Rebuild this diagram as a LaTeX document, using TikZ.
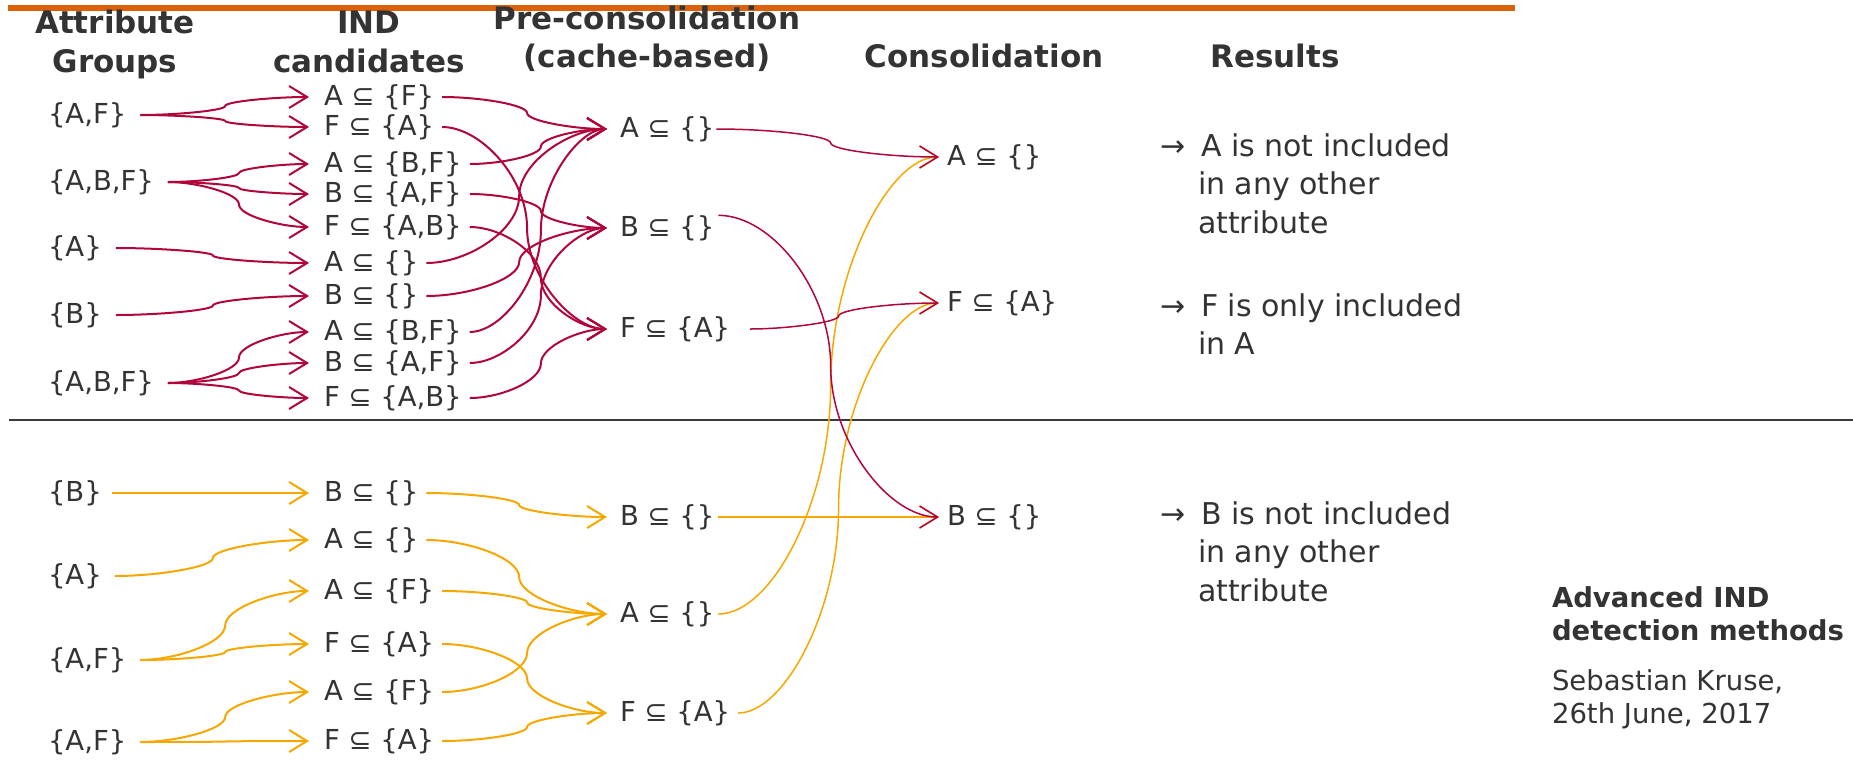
\documentclass[tikz,border=0pt]{standalone}
\usepackage{fontspec}
\setmainfont{DejaVu Sans}
\usetikzlibrary{arrows.meta,calc}
\definecolor{hpired}{HTML}{B1063A}
\definecolor{hpiyellow}{HTML}{F6A800}
\definecolor{hpiorange}{HTML}{DD6108}
\definecolor{txt}{HTML}{333333}
\definecolor{rulegray}{HTML}{3A3A3A}
\newcommand{\lblfont}{\fontsize{27.5}{33}\selectfont}
\newcommand{\resfont}{\fontsize{30}{38.5}\selectfont}
\newcommand{\hdrfont}{\fontsize{31}{39}\selectfont\bfseries}
\newcommand{\ftfont}{\fontsize{27.5}{33}\selectfont}
\begin{document}
\begin{tikzpicture}[x=1pt,y=-1pt,
  lbl/.style={font=\lblfont, text=txt, inner sep=0pt, outer sep=0pt, anchor=west},
  hdr/.style={font=\hdrfont, text=txt, inner sep=0pt, outer sep=0pt, anchor=base},
  res/.style={font=\resfont, text=txt, inner sep=0pt, outer sep=0pt, anchor=base west},
  foot/.style={font=\ftfont, text=txt, inner sep=0pt, outer sep=0pt, anchor=base west},
  openarrow/.style={-{Straight Barb[length=18pt,width=22pt]}},
  rcon/.style={draw=hpired, line width=2pt, openarrow},
  ycon/.style={draw=hpiyellow, line width=2pt, openarrow},
  pp/.style={to path={let \p1=(\tikztostart), \p2=(\tikztotarget),
      \p3=($(\p1)!0.5!(\p2)$), \p4=($(\p1)!0.25!(\p2)$), \p5=($(\p1)!0.75!(\p2)$) in
      .. controls (\x4,\y1) and (\x3,\y4) .. (\x3,\y3)
      .. controls (\x3,\y5) and (\x5,\y2) .. (\p2)}},
  gin/.style={shorten <=14pt, shorten >=15pt},
  cin/.style={shorten <=8pt, shorten >=13pt},
  kin/.style={shorten >=8pt, line width=1.5pt},
]
\useasboundingbox (0,0) rectangle (1853,761);

% rules
\draw[hpiorange, line width=6pt] (8,8) coordinate (topL) -- (1515,8) coordinate (topR);
\draw[rulegray, line width=2.5pt] (9,420) coordinate (sepL) -- (1853,420) coordinate (sepR);

% headers
\node[hdr] (h1a) at (115,33) {Attribute};
\node[hdr] (h1b) at (115,72) {Groups};
\node[hdr] (h2a) at (369,33) {IND};
\node[hdr] (h2b) at (369,72) {candidates};
\node[hdr] (h3a) at (647,29) {Pre-consolidation};
\node[hdr] (h3b) at (647,67) {(cache-based)};
\node[hdr] (h4) at (984,67) {Consolidation};
\node[hdr] (h5) at (1275,67) {Results};

% upper attribute groups
\node[lbl] (g1) at (48,115) {\{A,F\}};
\node[lbl] (g2) at (48,182) {\{A,B,F\}};
\node[lbl] (g3) at (48,248) {\{A\}};
\node[lbl] (g4) at (48,315) {\{B\}};
\node[lbl] (g5) at (48,383) {\{A,B,F\}};

% upper candidates
\node[lbl] (c1) at (324,97) {A ⊆ \{F\}};
\node[lbl] (c2) at (324,127) {F ⊆ \{A\}};
\node[lbl] (c3) at (324,164) {A ⊆ \{B,F\}};
\node[lbl] (c4) at (324,194) {B ⊆ \{A,F\}};
\node[lbl] (c5) at (324,227) {F ⊆ \{A,B\}};
\node[lbl] (c6) at (324,263) {A ⊆ \{\}};
\node[lbl] (c7) at (324,296) {B ⊆ \{\}};
\node[lbl] (c8) at (324,332) {A ⊆ \{B,F\}};
\node[lbl] (c9) at (324,363) {B ⊆ \{A,F\}};
\node[lbl] (c10) at (324,398) {F ⊆ \{A,B\}};

% upper pre-consolidation
\node[lbl] (pA) at (620,129) {A ⊆ \{\}};
\node[lbl] (pB) at (620,228) {B ⊆ \{\}};
\node[lbl] (pF) at (620,329) {F ⊆ \{A\}};

% consolidation
\node[lbl] (kA) at (947,157) {A ⊆ \{\}};
\node[lbl] (kF) at (947,303) {F ⊆ \{A\}};
\node[lbl] (kB) at (947,517) {B ⊆ \{\}};

% lower attribute groups
\node[lbl] (l1) at (48,493) {\{B\}};
\node[lbl] (l2) at (48,576) {\{A\}};
\node[lbl] (l3) at (48,660) {\{A,F\}};
\node[lbl] (l4) at (48,742) {\{A,F\}};

% lower candidates
\node[lbl] (d1) at (324,493) {B ⊆ \{\}};
\node[lbl] (d2) at (324,540) {A ⊆ \{\}};
\node[lbl] (d3) at (324,591) {A ⊆ \{F\}};
\node[lbl] (d4) at (324,644) {F ⊆ \{A\}};
\node[lbl] (d5) at (324,692) {A ⊆ \{F\}};
\node[lbl] (d6) at (324,741) {F ⊆ \{A\}};

% lower pre-consolidation
\node[lbl] (qB) at (620,517) {B ⊆ \{\}};
\node[lbl] (qA) at (620,614) {A ⊆ \{\}};
\node[lbl] (qF) at (620,713) {F ⊆ \{A\}};

% results
\node[res] (r1x) at (1160,156) {→};
\node[res] (r1a) at (1201,156) {A is not included};
\node[res] (r1b) at (1198,194.5) {in any other};
\node[res] (r1c) at (1198,233) {attribute};
\node[res] (r2x) at (1160,316) {→};
\node[res] (r2a) at (1201,316) {F is only included};
\node[res] (r2b) at (1198,354.5) {in A};
\node[res] (r3x) at (1160,524) {→};
\node[res] (r3a) at (1201,524) {B is not included};
\node[res] (r3b) at (1198,562.5) {in any other};
\node[res] (r3c) at (1198,601) {attribute};

% footer
\node[foot, font=\ftfont\bfseries] (f1) at (1552,607) {Advanced IND};
\node[foot, font=\ftfont\bfseries] (f2) at (1552,640) {detection methods};
\node[foot] (f3) at (1552,690) {Sebastian Kruse,};
\node[foot] (f4) at (1552,723) {26th June, 2017};

% upper connectors: groups -> candidates
\draw[rcon, gin] (g1.east) to[pp] (c1.west);
\draw[rcon, gin] (g1.east) to[pp] (c2.west);
\draw[rcon, gin] (g2.east) to[pp] (c3.west);
\draw[rcon, gin] (g2.east) to[pp] (c4.west);
\draw[rcon, gin] (g2.east) to[pp] (c5.west);
\draw[rcon, gin] (g3.east) to[pp] (c6.west);
\draw[rcon, gin] (g4.east) to[pp] (c7.west);
\draw[rcon, gin] (g5.east) to[pp] (c8.west);
\draw[rcon, gin] (g5.east) to[pp] (c9.west);
\draw[rcon, gin] (g5.east) to[pp] (c10.west);

% upper: candidates -> pre-consolidation
\draw[rcon, cin] (c1.east) to[pp] (pA.west);
\draw[rcon, cin] (c2.east) to[pp] (pF.west);
\draw[rcon, cin] (c3.east) to[pp] (pA.west);
\draw[rcon, cin] (c4.east) to[pp] (pB.west);
\draw[rcon, cin] (c5.east) to[pp] (pF.west);
\draw[rcon, cin] (c6.east) to[pp] (pA.west);
\draw[rcon, cin] (c7.east) to[pp] (pB.west);
\draw[rcon, cin] (c8.east) to[pp] (pA.west);
\draw[rcon, cin] (c9.east) to[pp] (pB.west);
\draw[rcon, cin] (c10.east) to[pp] (pF.west);

% lower connectors: groups -> candidates
\draw[ycon, gin, shorten <=10pt] (l1.east) to[pp] (d1.west);
\draw[ycon, gin, shorten <=13pt] (l2.east) to[pp] (d2.west);
\draw[ycon, gin] (l3.east) to[pp] (d3.west);
\draw[ycon, gin] (l3.east) to[pp] (d4.west);
\draw[ycon, gin] (l4.east) to[pp] (d5.west);
\draw[ycon, gin] (l4.east) to[pp] (d6.west);

% lower: candidates -> pre-consolidation
\draw[ycon, cin] (d1.east) to[pp] (qB.west);
\draw[ycon, cin] (d2.east) to[pp] (qA.west);
\draw[ycon, cin] (d3.east) to[pp] (qA.west);
\draw[ycon, cin] (d4.east) to[pp] (qF.west);
\draw[ycon, cin] (d5.east) to[pp] (qA.west);
\draw[ycon, cin] (d6.east) to[pp] (qF.west);

% pre-consolidation -> consolidation
\draw[ycon, kin, shorten <=4pt] (qB.east) to[pp] (kB.west);
\draw[ycon, kin, shorten <=4pt] (qA.east) to[pp] (kA.west);
\draw[ycon, kin, shorten <=8pt] (qF.east) to[pp] (kF.west);
\draw[rcon, kin, shorten <=2pt] (pA.east) to[pp] (kA.west);
\draw[rcon, kin, shorten <=20pt] (pF.east) to[pp] (kF.west);
\draw[rcon, kin, shorten <=4pt] (pB.north east) to[pp] (kB.west);
\end{tikzpicture}
\end{document}
